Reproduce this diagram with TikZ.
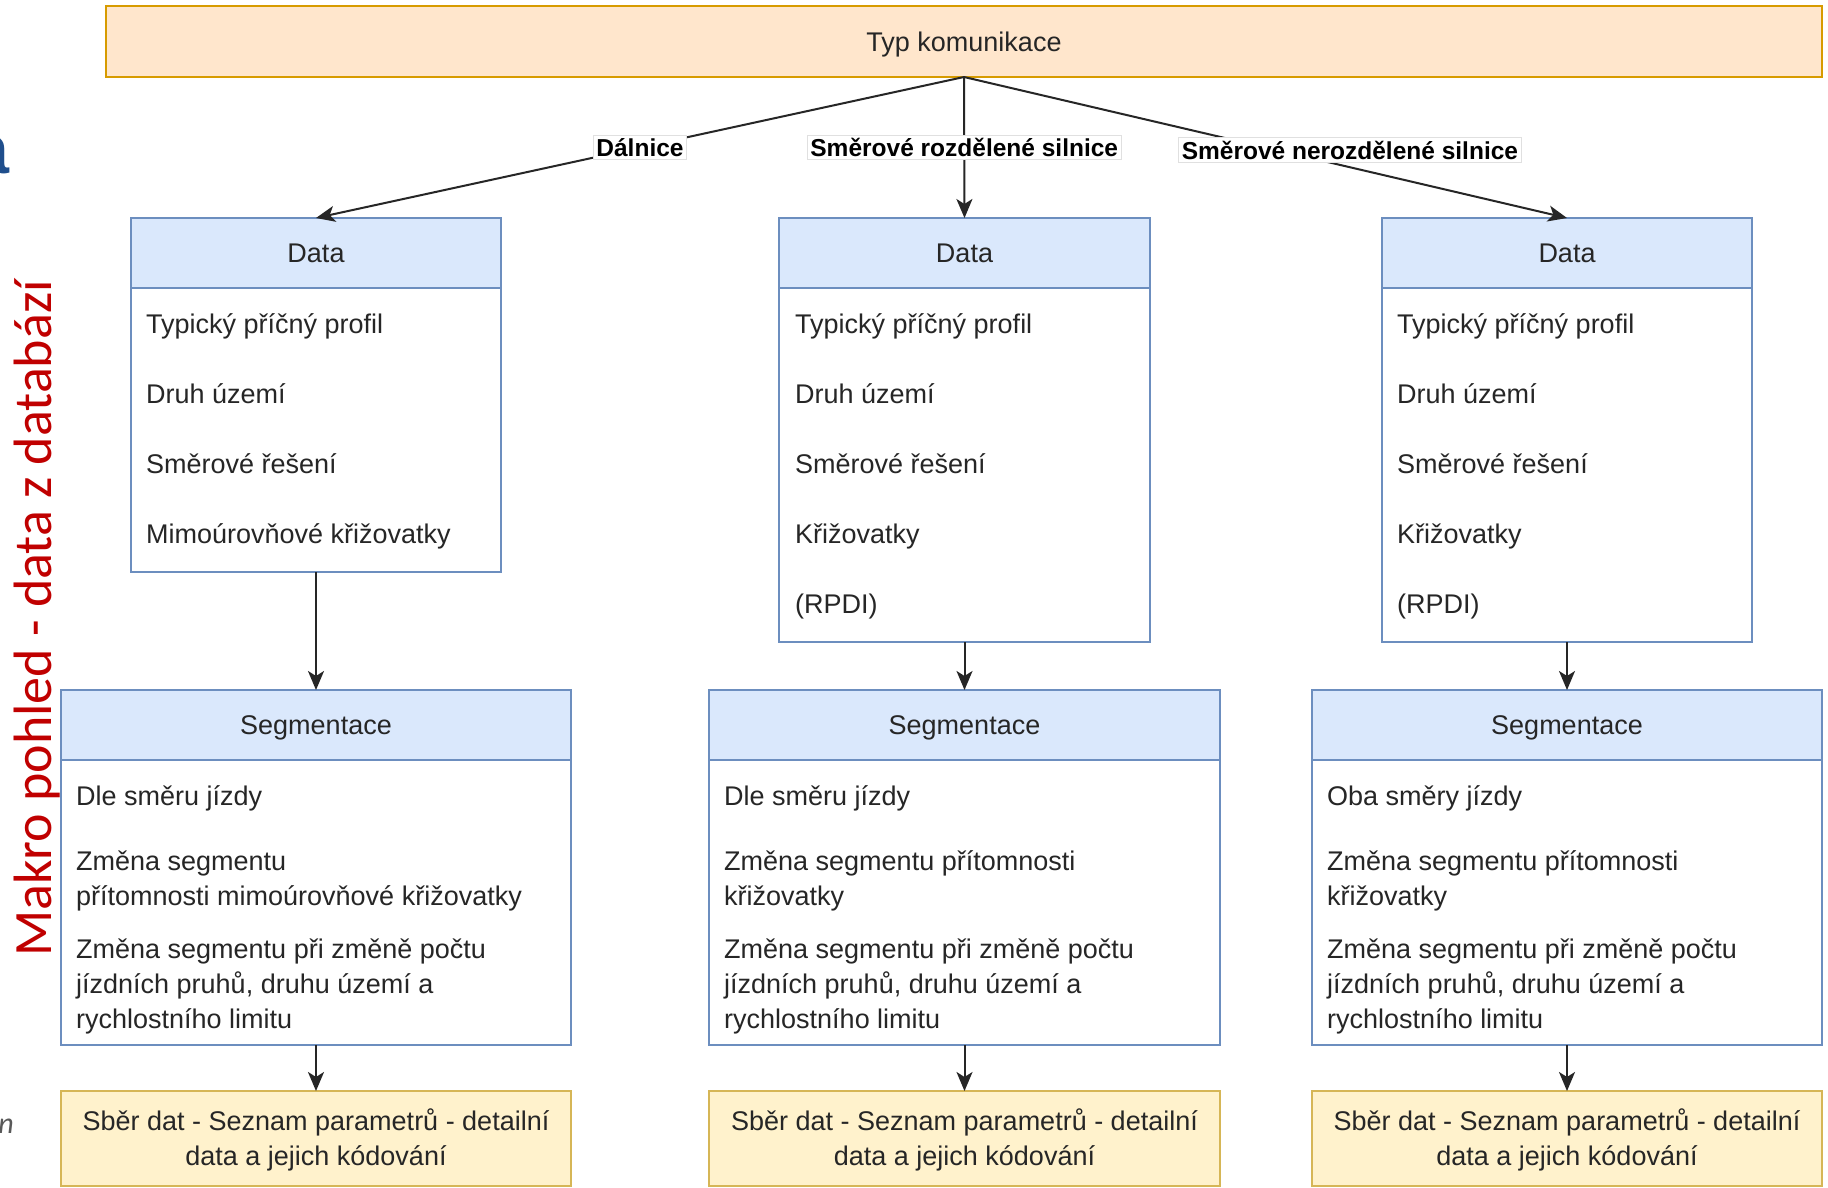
\documentclass[tikz,border=0pt]{standalone}
\usepackage{fontspec}
\setmainfont{Liberation Sans}
\newfontfamily\carl{Carlito}
\usetikzlibrary{arrows.meta}
\definecolor{topfill}{HTML}{FFE6CC}
\definecolor{topline}{HTML}{D79B00}
\definecolor{bluefill}{HTML}{DAE8FC}
\definecolor{blueline}{HTML}{6C8EBF}
\definecolor{yelfill}{HTML}{FFF2CC}
\definecolor{yelline}{HTML}{D6B656}
\definecolor{txt}{HTML}{262626}
\definecolor{makro}{HTML}{C00000}
\definecolor{titleblue}{HTML}{1F4E8C}
\begin{document}
\begin{tikzpicture}[x=1pt,y=-1pt,
 box/.style={rectangle, inner sep=0pt, outer sep=0pt, line width=2pt, anchor=north west, font=\fontsize{27}{35}\selectfont, text=txt},
 topbox/.style={box, fill=topfill, draw=topline, text height=19.5pt, text depth=0pt},
 hdr/.style={box, fill=bluefill, draw=blueline, minimum height=70pt, text height=19.5pt, text depth=0pt},
 bodybox/.style={box, fill=white, draw=blueline},
 ybox/.style={box, fill=yelfill, draw=yelline},
 itemtxt/.style={anchor=base west, inner sep=0pt, font=\fontsize{27}{35}\selectfont, text=txt},
 ctxt/.style={anchor=base, inner sep=0pt, font=\fontsize{27}{35}\selectfont, text=txt},
 conn/.style={draw=black!85, line width=2pt, -{Stealth[length=19pt,width=16pt,inset=5pt]}},
 lbl/.style={fill=white, draw=black!12, line width=1pt, inner sep=3pt, font=\fontsize{24.5}{28}\selectfont\bfseries, text=black}
]
\useasboundingbox (0,0) rectangle (1828,1188);
\clip (0,0) rectangle (1828,1188);
\fill[white] (0,0) rectangle (1828,1188);

% side fragments
\node[anchor=base east, inner sep=0pt, text=titleblue, font=\fontsize{70}{70}\selectfont\bfseries] (ttl) at (10,173) {a};
\node[anchor=base east, inner sep=0pt, text=black!65, font=\carl\itshape\fontsize{30}{30}\selectfont] (nn) at (14,1133) {n};
\node[rotate=90, anchor=base west, inner sep=0pt, text=makro, font=\carl\fontsize{54}{54}\selectfont] (makro) at (51,957) {Makro pohled - data z databází};

% top
\node[topbox, minimum width=1716pt, minimum height=71pt] (top) at (106,6) {Typ komunikace};

% data boxes
\node[hdr, minimum width=370pt] (d1h) at (131,218) {Data};
\node[bodybox, minimum width=370pt, minimum height=284pt] (d1b) at (131,288) {};
\node[hdr, minimum width=371pt] (d2h) at (779,218) {Data};
\node[bodybox, minimum width=371pt, minimum height=354pt] (d2b) at (779,288) {};
\node[hdr, minimum width=370pt] (d3h) at (1382,218) {Data};
\node[bodybox, minimum width=370pt, minimum height=354pt] (d3b) at (1382,288) {};

\node[itemtxt] (d1i1) at (146,333) {Typický příčný profil};
\node[itemtxt] (d1i2) at (146,403) {Druh území};
\node[itemtxt] (d1i3) at (146,473) {Směrové řešení};
\node[itemtxt] (d1i4) at (146,543) {Mimoúrovňové křižovatky};

\node[itemtxt] (d2i1) at (795,333) {Typický příčný profil};
\node[itemtxt] (d2i2) at (795,403) {Druh území};
\node[itemtxt] (d2i3) at (795,473) {Směrové řešení};
\node[itemtxt] (d2i4) at (795,543) {Křižovatky};
\node[itemtxt] (d2i5) at (795,613) {(RPDI)};

\node[itemtxt] (d3i1) at (1397,333) {Typický příčný profil};
\node[itemtxt] (d3i2) at (1397,403) {Druh území};
\node[itemtxt] (d3i3) at (1397,473) {Směrové řešení};
\node[itemtxt] (d3i4) at (1397,543) {Křižovatky};
\node[itemtxt] (d3i5) at (1397,613) {(RPDI)};

% segmentace boxes
\node[hdr, minimum width=510pt] (s1h) at (61,690) {Segmentace};
\node[bodybox, minimum width=510pt, minimum height=285pt] (s1b) at (61,760) {};
\node[hdr, minimum width=511pt] (s2h) at (709,690) {Segmentace};
\node[bodybox, minimum width=511pt, minimum height=285pt] (s2b) at (709,760) {};
\node[hdr, minimum width=510pt] (s3h) at (1312,690) {Segmentace};
\node[bodybox, minimum width=510pt, minimum height=285pt] (s3b) at (1312,760) {};

\node[itemtxt] (s1a) at (76,805) {Dle směru jízdy};
\node[itemtxt] (s1b1) at (76,870) {Změna segmentu};
\node[itemtxt] (s1b2) at (76,905) {přítomnosti mimoúrovňové křižovatky};
\node[itemtxt] (s1c1) at (76,958) {Změna segmentu při změně počtu};
\node[itemtxt] (s1c2) at (76,993) {jízdních pruhů, druhu území a};
\node[itemtxt] (s1c3) at (76,1028) {rychlostního limitu};

\node[itemtxt] (s2a) at (724,805) {Dle směru jízdy};
\node[itemtxt] (s2b1) at (724,870) {Změna segmentu přítomnosti};
\node[itemtxt] (s2b2) at (724,905) {křižovatky};
\node[itemtxt] (s2c1) at (724,958) {Změna segmentu při změně počtu};
\node[itemtxt] (s2c2) at (724,993) {jízdních pruhů, druhu území a};
\node[itemtxt] (s2c3) at (724,1028) {rychlostního limitu};

\node[itemtxt] (s3a) at (1327,805) {Oba směry jízdy};
\node[itemtxt] (s3b1) at (1327,870) {Změna segmentu přítomnosti};
\node[itemtxt] (s3b2) at (1327,905) {křižovatky};
\node[itemtxt] (s3c1) at (1327,958) {Změna segmentu při změně počtu};
\node[itemtxt] (s3c2) at (1327,993) {jízdních pruhů, druhu území a};
\node[itemtxt] (s3c3) at (1327,1028) {rychlostního limitu};

% yellow boxes
\node[ybox, minimum width=510pt, minimum height=95pt] (y1) at (61,1091) {};
\node[ybox, minimum width=511pt, minimum height=95pt] (y2) at (709,1091) {};
\node[ybox, minimum width=510pt, minimum height=95pt] (y3) at (1312,1091) {};
\node[ctxt] (y1t1) at (316,1130) {Sběr dat - Seznam parametrů - detailní};
\node[ctxt] (y1t2) at (316,1165) {data a jejich kódování};
\node[ctxt] (y2t1) at (964.5,1130) {Sběr dat - Seznam parametrů - detailní};
\node[ctxt] (y2t2) at (964.5,1165) {data a jejich kódování};
\node[ctxt] (y3t1) at (1567,1130) {Sběr dat - Seznam parametrů - detailní};
\node[ctxt] (y3t2) at (1567,1165) {data a jejich kódování};

% connectors
\draw[conn] (top.south) -- node[lbl] (lab1) {Dálnice} (d1h.north);
\draw[conn] (top.south) -- node[lbl] (lab2) {Směrové rozdělené silnice} (d2h.north);
\draw[conn] (top.south) -- node[lbl, pos=0.64, yshift=17pt] (lab3) {Směrové nerozdělené silnice} (d3h.north);

\draw[conn] (d1b.south) -- (s1h.north);
\draw[conn] (d2b.south) -- (s2h.north);
\draw[conn] (d3b.south) -- (s3h.north);
\draw[conn] (s1b.south) -- (y1.north);
\draw[conn] (s2b.south) -- (y2.north);
\draw[conn] (s3b.south) -- (y3.north);
\end{tikzpicture}
\end{document}
